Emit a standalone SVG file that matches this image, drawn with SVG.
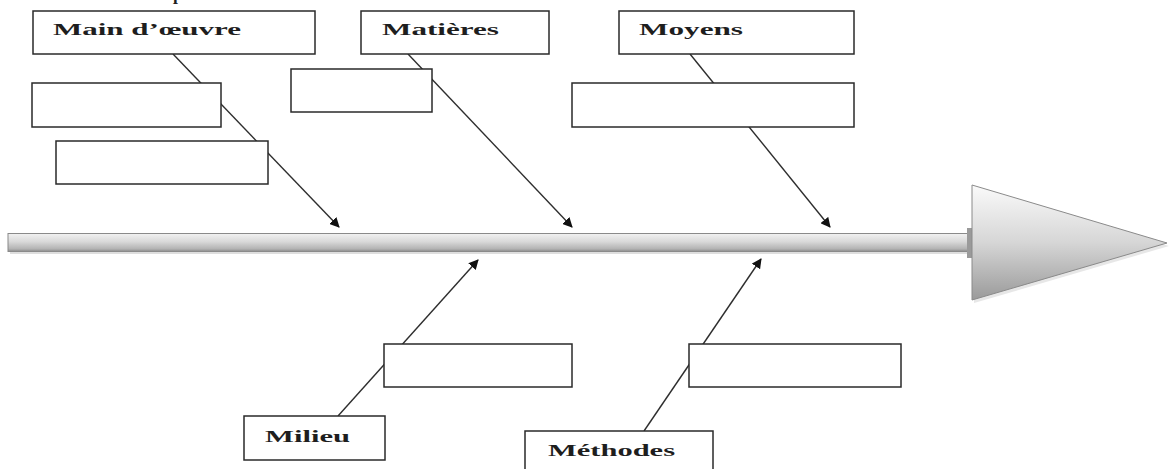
<svg xmlns="http://www.w3.org/2000/svg" width="1169" height="469" viewBox="0 0 1169 469">
  <style>
    .box { fill: #ffffff; stroke: #2a2a2a; stroke-width: 1.5; }
    .lbl { font-family: "Liberation Serif", "Times New Roman", serif; font-weight: bold; font-size: 17.5px; fill: #1e1e1e; }
    .conn { stroke: #2e2e2e; stroke-width: 1.4; fill: none; marker-end: url(#arrow); }
  </style>
  <defs>
    <marker id="arrow" viewBox="0 0 10 10" refX="9" refY="5" markerWidth="10" markerHeight="10" markerUnits="userSpaceOnUse" orient="auto">
      <path d="M0,0 L10,5 L0,10 z" fill="#111111"/>
    </marker>
    <linearGradient id="barGrad" x1="0" y1="0" x2="0" y2="1">
      <stop offset="0" stop-color="#f2f2f2"/>
      <stop offset="0.45" stop-color="#d9d9d9"/>
      <stop offset="0.85" stop-color="#b3b3b3"/>
      <stop offset="1" stop-color="#8c8c8c"/>
    </linearGradient>
    <linearGradient id="headGrad" x1="0" y1="0" x2="0" y2="1">
      <stop offset="0" stop-color="#fafafa"/>
      <stop offset="0.5" stop-color="#d6d6d6"/>
      <stop offset="1" stop-color="#9a9a9a"/>
    </linearGradient>
  </defs>

  <rect width="1169" height="469" fill="#ffffff"/>

  <!-- tail of a heading line cut by the top edge -->
  <text class="lbl" x="173" y="0">p</text>

  <!-- spine of the fishbone -->
  <g id="spine">
    <rect x="10" y="236" width="960" height="18" fill="#c8c8c8" opacity="0.6"/>
    <rect x="8" y="233.5" width="960" height="18" fill="url(#barGrad)" stroke="#8a8a8a" stroke-width="1"/>
    <rect x="967" y="228" width="5" height="30" fill="#9a9a9a"/>
    <polygon points="974,188 1169,246 974,303" fill="#cfcfcf" opacity="0.5"/>
    <polygon points="972,185 1167,243 972,300" fill="url(#headGrad)" stroke="#8a8a8a" stroke-width="1"/>
  </g>

  <!-- cause branches -->
  <g id="connectors">
    <line class="conn" x1="173" y1="54" x2="339" y2="227"/>
    <line class="conn" x1="408" y1="54" x2="572" y2="227"/>
    <line class="conn" x1="690" y1="54" x2="830" y2="227"/>
    <line class="conn" x1="338" y1="416" x2="478" y2="260"/>
    <line class="conn" x1="644" y1="431" x2="761" y2="259"/>
  </g>

  <g id="main-oeuvre">
    <rect class="box" x="33" y="11" width="282" height="43"/>
    <text class="lbl" x="53" y="35" textLength="188" lengthAdjust="spacingAndGlyphs">Main d’œuvre</text>
  </g>
  <g id="main-oeuvre-a"><rect class="box" x="32" y="83" width="189" height="44"/></g>
  <g id="main-oeuvre-b"><rect class="box" x="56" y="141" width="212" height="43"/></g>

  <g id="matieres">
    <rect class="box" x="361" y="11" width="188" height="43"/>
    <text class="lbl" x="382" y="35" textLength="117" lengthAdjust="spacingAndGlyphs">Matières</text>
  </g>
  <g id="matieres-a"><rect class="box" x="291" y="69" width="141" height="43"/></g>

  <g id="moyens">
    <rect class="box" x="619" y="11" width="235" height="43"/>
    <text class="lbl" x="639" y="35" textLength="104" lengthAdjust="spacingAndGlyphs">Moyens</text>
  </g>
  <g id="moyens-a"><rect class="box" x="572" y="83" width="282" height="44"/></g>

  <g id="milieu-a"><rect class="box" x="384" y="344" width="188" height="43"/></g>
  <g id="milieu">
    <rect class="box" x="244" y="416" width="141" height="44"/>
    <text class="lbl" x="265" y="442" textLength="85" lengthAdjust="spacingAndGlyphs">Milieu</text>
  </g>

  <g id="methodes-a"><rect class="box" x="689" y="344" width="212" height="43"/></g>
  <g id="methodes">
    <rect class="box" x="525" y="431" width="188" height="50"/>
    <text class="lbl" x="548" y="456" textLength="127" lengthAdjust="spacingAndGlyphs">Méthodes</text>
  </g>
</svg>
